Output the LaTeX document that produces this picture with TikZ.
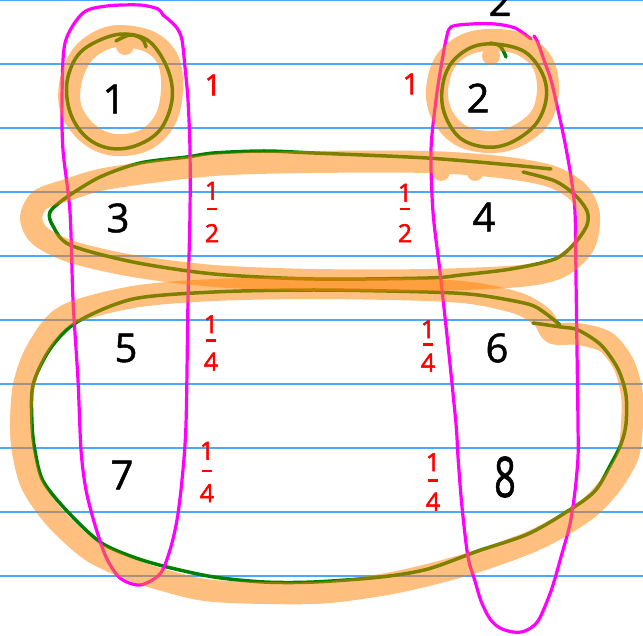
\documentclass[tikz,border=0pt]{standalone}
\usepackage{fontspec}
\setmainfont{Open Sans}
\definecolor{ruleblue}{RGB}{77,166,255}
\definecolor{pengreen}{RGB}{0,128,0}
\definecolor{hlorange}{RGB}{255,128,0}
\definecolor{penred}{RGB}{255,0,0}
\definecolor{penpink}{RGB}{255,0,255}
\newcommand\hfr[4]{\vbox{\offinterlineskip\halign{\hfil##\hfil\cr #1\cr\noalign{\kern#3}\rule{10pt}{2.5pt}\cr\noalign{\kern#4}#2\cr}}}
\begin{document}
\begin{tikzpicture}[x=1pt,y=-1pt,
  ruled/.style={draw=ruleblue,line width=1.6},
  greenpen/.style={draw=pengreen,line width=3.5,line cap=round,line join=round},
  pinkpen/.style={draw=penpink,line width=3.2,line cap=round,line join=round},
  hl/.style={draw=hlorange,line width=22,line cap=round,line join=round},
  blob/.style={fill=hlorange},
  num/.style={font=\fontsize{40}{40}\selectfont\addfontfeature{FakeBold=1.2},text=black,inner sep=0},
  rednum/.style={font=\fontsize{29}{29}\selectfont\addfontfeature{FakeBold=2},text=penred,inner sep=0},
  redfrac/.style={font=\fontsize{25}{25}\selectfont\addfontfeature{FakeBold=2},text=penred,inner sep=0}]
\useasboundingbox (0,0) rectangle (643,636);
\clip (0,0) rectangle (643,636);
\fill[white] (0,0) rectangle (643,636);
% ruled paper
\foreach \yy in {0,64,...,576} \draw[ruled] (0,\yy) -- (643,\yy);
% green loops
\draw[greenpen] plot[smooth cycle,tension=0.6] coordinates {(125,34) (150,42) (168,70) (172,100) (160,130) (135,146) (108,148) (85,136) (70,112) (67,82) (78,55) (100,40)};
\draw[greenpen] plot[smooth,tension=0.6] coordinates {(116,41) (130,35) (142,39) (146,47)};
\draw[greenpen] plot[smooth cycle,tension=0.6] coordinates {(495,44) (525,52) (543,75) (546,100) (535,125) (510,143) (485,147) (460,138) (445,115) (442,90) (450,65) (470,48)};
\draw[greenpen] plot[smooth,tension=0.6] coordinates {(490,43) (500,46) (506,57)};
\draw[greenpen] plot[smooth,tension=0.5] coordinates {(551,169) (511,165) (427,158) (314,153) (264,151) (214,153) (187,157) (140,163) (100,177) (67,197) (50,212) (53,226) (70,245) (133,262) (214,274) (314,279) (428,278) (461,275) (511,269) (555,259) (575,243) (587,225) (587,211) (575,195) (555,181) (523,172)};
\draw[greenpen] plot[smooth,tension=0.5] coordinates {(533,323) (561,327) (578,330) (601,345) (618,369) (626,395) (626,424) (621,444) (611,464) (595,491) (568,511) (528,534) (478,551) (428,569) (381,577) (314,582) (264,582) (214,577) (167,567) (133,557) (100,542) (67,511) (43,481) (35,451) (32,424) (33,385) (50,349) (77,322) (133,299) (214,292) (314,290) (428,292) (478,295) (528,304) (545,313) (560,325)};
% magenta loops
\draw[pinkpen] plot[smooth cycle,tension=0.5] coordinates {(83,13) (107,6) (140,5) (158,9) (163,15) (168,19) (177,28) (182,40) (185,67) (188,100) (190,150) (190,212) (188,300) (186,424) (182,480) (177,520) (170,550) (160,574) (140,585) (120,578) (106,557) (95,525) (86,490) (81,450) (78,380) (73,300) (70,212) (63,150) (62,100) (65,43)};
\draw[pinkpen] plot[smooth,tension=0.5] coordinates {(534,36) (538,43) (545,63) (551,80) (558,110) (565,143) (571,177) (575,212) (576,279) (577,350) (578,424) (578,457) (575,491) (570,524) (561,557) (551,591) (538,621) (525,631) (513,632) (500,628) (490,619) (481,601) (475,581) (468,557) (462,507) (458,457) (456,424) (448,345) (440,272) (433,212) (431,150) (436,100) (441,67) (446,40) (451,27) (471,24) (495,24) (515,28) (531,39)};
% orange highlighter strokes
\begin{scope}[transparency group,opacity=0.5]
\draw[hl] plot[smooth cycle,tension=0.6] coordinates {(120,36) (150,42) (168,60) (172,90) (165,120) (145,140) (115,145) (90,135) (72,112) (70,85) (80,58) (98,42)};
\fill[blob] (125,46) circle[radius=9];
\end{scope}
\begin{scope}[transparency group,opacity=0.5]
\draw[hl] plot[smooth cycle,tension=0.6] coordinates {(490,40) (520,44) (542,62) (548,90) (540,118) (515,137) (488,142) (460,135) (442,115) (437,90) (445,62) (465,45)};
\fill[blob] (491,56) circle[radius=9];
\end{scope}
\begin{scope}[transparency group,opacity=0.5]
\draw[hl] plot[smooth cycle,tension=0.5] coordinates {(31,218) (40,200) (67,190) (110,178) (214,165) (314,162) (428,162) (500,167) (550,176) (578,192) (589,215) (584,245) (560,267) (520,276) (428,280) (314,280) (214,276) (133,266) (72,252) (40,236)};
\fill[blob] (441,172) circle[radius=9];
\fill[blob] (475,173) circle[radius=8];
\end{scope}
\begin{scope}[transparency group,opacity=0.5]
\draw[hl] plot[smooth cycle,tension=0.5] coordinates {(428,290) (478,294) (520,304) (543,318) (553,333) (578,334) (606,342) (624,365) (632,395) (632,424) (628,455) (612,483) (590,507) (560,527) (528,543) (478,561) (428,575) (381,585) (314,593) (214,591) (163,580) (127,568) (90,550) (55,518) (32,485) (23,452) (21,424) (24,385) (37,350) (65,316) (133,297) (214,290) (314,288)};
\end{scope}
% black numbers
\node[num] (n1) at (114,99) {1};
\node[num] (n2) at (478,98) {2};
\node[num,anchor=base] (n2top) at (500,16) {2};
\node[num] (n3) at (118,218) {3};
\node[num] (n4) at (484,217) {4};
\node[num] (n5) at (126,348) {5};
\node[num] (n6) at (497,348) {6};
\node[num] (n7) at (122,475) {7};
\node[num] (n8) at (505,477) {\scalebox{0.95}[1.4]{8}};
% red weights
\node[rednum] (w1) at (213,85) {1};
\node[rednum] (w2) at (411,84) {1};
\node[redfrac] (w3) at (212,212) {\hfr{1}{2}{8pt}{14pt}};
\node[redfrac] (w4) at (405,213) {\hfr{1}{2}{6pt}{14pt}};
\node[redfrac] (w5) at (211,343) {\hfr{1}{4}{6pt}{11pt}};
\node[redfrac] (w6) at (428,346) {\hfr{1}{4}{5pt}{8pt}};
\node[redfrac] (w7) at (207,472) {\hfr{1}{4}{10pt}{12pt}};
\node[redfrac] (w8) at (433,482) {\hfr{1}{4}{8pt}{11pt}};
\end{tikzpicture}
\end{document}
